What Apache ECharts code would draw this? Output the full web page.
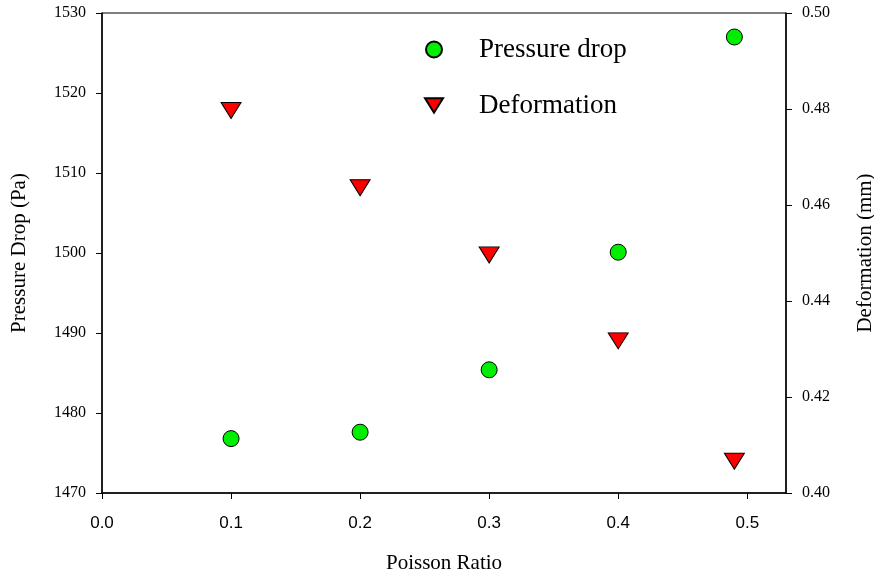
<!DOCTYPE html>
<html>
<head>
<meta charset="utf-8">
<script src="https://cdn.jsdelivr.net/npm/echarts@6/dist/echarts.min.js"></script>
<style>
  html, body { margin: 0; padding: 0; background: #fff; }
  #chart { width: 874px; height: 575px; }
</style>
</head>
<body>
<div id="chart"></div>
<script>
// poisson ratio on x, two series on separate y axes
var poisson = [0.1, 0.2, 0.3, 0.4, 0.49]
var pressureDrop = [1476.8, 1477.6, 1485.4, 1500.1, 1527.0]
var deformation = [0.4797, 0.4636, 0.4496, 0.4317, 0.4066]

var serif = 'Liberation Serif, Times New Roman, serif'
var sans = 'Liberation Sans, Arial, sans-serif'
// downward triangle
var triDown = 'path://M0,0L20,0L10,16Z'

function pairs(xs, ys) {
    return xs.map(function (x, i) { return [x, ys[i]] })
}

var myChart = echarts.init(document.getElementById('chart'))

var option = {
    animation: false,
    backgroundColor: '#fff',
    grid: {
        left: 102, right: 88, top: 13, bottom: 82,
        outerBoundsMode: 'none',
        show: true, borderColor: '#000', borderWidth: 1, backgroundColor: 'transparent'
    },
    legend: {
        orient: 'vertical',
        left: 424, top: 36,
        padding: 0,
        itemWidth: 18, itemHeight: 16,
        itemGap: 29,
        textStyle: { fontFamily: serif, fontSize: 27, color: '#000', padding: [0, 0, 0, 31] },
        data: [
            { name: 'Pressure drop', icon: 'circle' },
            { name: 'Deformation', icon: triDown }
        ]
    },
    xAxis: {
        type: 'value',
        min: 0, max: 0.53, interval: 0.1,
        name: 'Poisson Ratio',
        nameLocation: 'middle', nameGap: 60,
        nameTextStyle: { fontFamily: serif, fontSize: 21, color: '#000' },
        axisLine: { lineStyle: { color: '#000', width: 1.5 } },
        axisTick: { length: 6, lineStyle: { color: '#000' } },
        splitLine: { show: false },
        axisLabel: {
            margin: 22, fontFamily: sans, fontSize: 17, color: '#000',
            showMaxLabel: false,
            formatter: function (v) { return v.toFixed(1) }
        }
    },
    yAxis: [{
        type: 'value',
        min: 1470, max: 1530, interval: 10,
        name: 'Pressure Drop (Pa)',
        nameLocation: 'middle', nameGap: 72,
        nameTextStyle: { fontFamily: serif, fontSize: 21, color: '#000' },
        axisLine: { show: true, lineStyle: { color: '#000', width: 1.5 } },
        axisTick: { show: true, length: 6, lineStyle: { color: '#000' } },
        splitLine: { show: false },
        axisLabel: {
            margin: 16, fontFamily: serif, fontSize: 16, color: '#000',
            formatter: function (v) { return String(v) }
        }
    }, {
        type: 'value',
        position: 'right',
        min: 0.40, max: 0.50, interval: 0.02,
        name: 'Deformation (mm)',
        nameLocation: 'middle', nameGap: 69, nameRotate: 90,
        nameTextStyle: { fontFamily: serif, fontSize: 21, color: '#000' },
        axisLine: { show: true, lineStyle: { color: '#000', width: 1.5 } },
        axisTick: { show: true, length: 6, lineStyle: { color: '#000' } },
        splitLine: { show: false },
        axisLabel: {
            margin: 16, fontFamily: serif, fontSize: 16, color: '#000',
            formatter: function (v) { return v.toFixed(2) }
        }
    }],
    series: [{
        name: 'Pressure drop',
        type: 'scatter',
        yAxisIndex: 0,
        symbol: 'circle',
        symbolSize: 16,
        itemStyle: { color: '#00ee00', borderColor: '#000', borderWidth: 1, opacity: 1 },
        data: pairs(poisson, pressureDrop)
    }, {
        name: 'Deformation',
        type: 'scatter',
        yAxisIndex: 1,
        symbol: triDown,
        symbolSize: [20, 16],
        itemStyle: { color: '#ff0000', borderColor: '#000', borderWidth: 1, opacity: 1 },
        data: pairs(poisson, deformation)
    }]
}

myChart.setOption(option)
</script>
</body>
</html>
